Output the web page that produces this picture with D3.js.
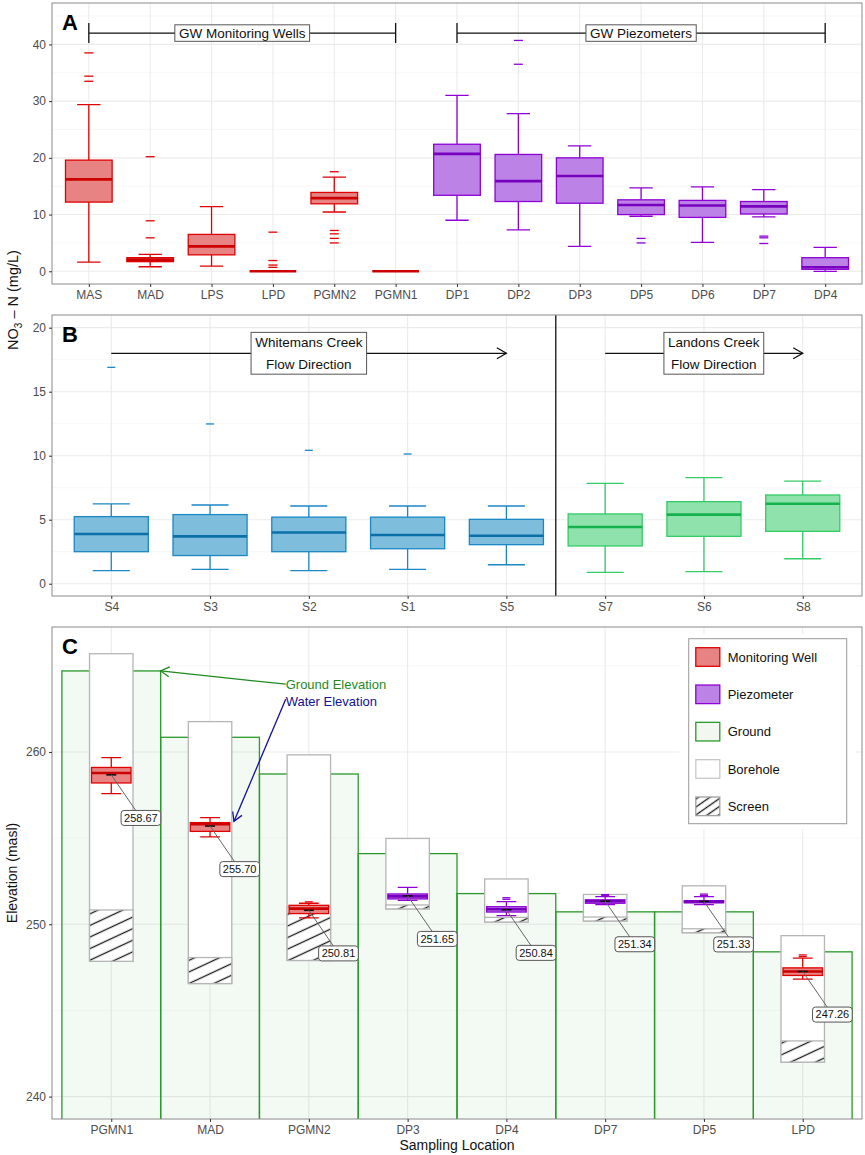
<!DOCTYPE html>
<html>
<head>
<meta charset="utf-8">
<script src="https://cdn.jsdelivr.net/npm/d3@7"></script>
<style>
  html, body { margin: 0; padding: 0; background: #fff; }
  svg { display: block; font-family: "Liberation Sans", Arial, sans-serif; }
</style>
</head>
<body>
<svg id="chart" width="865" height="1155"></svg>
<script>
/* Nitrate box plots (A: groundwater, B: creeks) and water-level profile (C). */

// ---- Panel A: groundwater NO3-N ----
const sitesA = ["MAS", "MAD", "LPS", "LPD", "PGMN2", "PGMN1", "DP1", "DP2", "DP3", "DP5", "DP6", "DP7", "DP4"];
const kindA = ["well", "well", "well", "well", "well", "well", "piezo", "piezo", "piezo", "piezo", "piezo", "piezo", "piezo"];
// [lower whisker, q1, median, q3, upper whisker]
const boxA = [
  [1.6, 12.2, 16.2, 19.6, 29.4],
  [0.8, 1.7, 2.05, 2.4, 3.0],
  [0.9, 2.9, 4.4, 6.5, 11.4],
  [0, 0, 0, 0, 0],
  [10.45, 11.9, 12.9, 13.9, 16.6],
  [0, 0, 0, 0, 0],
  [9.0, 13.4, 20.7, 22.4, 31.0],
  [7.3, 12.3, 15.9, 20.6, 27.8],
  [4.4, 12.0, 16.8, 20.0, 22.1],
  [9.7, 10.0, 11.7, 12.6, 14.7],
  [5.1, 9.5, 11.6, 12.5, 14.9],
  [9.6, 10.1, 11.45, 12.3, 14.4],
  [0, 0.35, 0.7, 2.4, 4.2]
];
const outA = [
  [38.5, 34.4, 33.5],
  [20.2, 8.9, 5.9],
  [],
  [6.9, 1.9, 1.1, 0.7],
  [17.55, 7.2, 6.6, 5.8, 5.0],
  [],
  [],
  [40.7, 36.5],
  [],
  [5.8, 5.0],
  [],
  [6.2, 5.9, 4.9],
  []
];
const ticksA = [0, 10, 20, 30, 40];
const groupLabelsA = ["GW Monitoring Wells", "GW Piezometers"];

// ---- Panel B: creek NO3-N ----
const sitesB = ["S4", "S3", "S2", "S1", "S5", "S7", "S6", "S8"];
const kindB = ["wc", "wc", "wc", "wc", "wc", "lc", "lc", "lc"];
const boxB = [
  [1.02, 2.5, 3.88, 5.24, 6.23],
  [1.12, 2.2, 3.7, 5.4, 6.15],
  [1.02, 2.5, 4.0, 5.2, 6.07],
  [1.12, 2.73, 3.8, 5.2, 6.07],
  [1.48, 3.05, 3.75, 5.03, 6.07],
  [0.89, 2.95, 4.43, 5.45, 7.84],
  [0.94, 3.7, 5.4, 6.41, 8.28],
  [1.95, 4.09, 6.25, 6.93, 8.02]
];
const outB = [[16.9], [12.48], [10.42], [10.13], [], [], [], []];
const ticksB = [0, 5, 10, 15, 20];
const creekLabelsB = [["Whitemans Creek", "Flow Direction"], ["Landons Creek", "Flow Direction"]];

// ---- Panel C: elevations (masl) ----
const sitesC = ["PGMN1", "MAD", "PGMN2", "DP3", "DP4", "DP7", "DP5", "LPD"];
const kindC = ["well", "well", "well", "piezo", "piezo", "piezo", "piezo", "well"];
const groundC = [264.7, 260.85, 258.72, 254.1, 251.78, 250.72, 250.72, 248.4];
const boreTopC = [265.7, 261.76, 259.83, 254.98, 252.63, 251.73, 252.23, 249.34];
const boreBottomC = [247.85, 246.56, 247.9, 250.89, 250.13, 250.19, 249.51, 242.0];
const screenTopC = [250.83, 248.07, 251.0, 251.12, 250.4, 250.42, 249.74, 243.23];
const waterBoxC = [
  [257.58, 258.2, 258.78, 259.1, 259.67],
  [255.07, 255.39, 255.8, 255.9, 256.19],
  [250.37, 250.62, 250.91, 251.1, 251.22],
  [251.39, 251.47, 251.62, 251.76, 252.14],
  [250.5, 250.71, 250.87, 251.02, 251.31],
  [251.14, 251.22, 251.34, 251.42, 251.6],
  [251.14, 251.25, 251.3, 251.37, 251.6],
  [246.82, 247.03, 247.26, 247.47, 248.03]
];
const waterOutC = [[], [], [251.3], [], [251.45, 251.54], [251.68, 251.72], [251.67, 251.75], [248.12, 248.22]];
const waterMeanC = [258.67, 255.70, 250.81, 251.65, 250.84, 251.34, 251.33, 247.26];
const ticksC = [240, 250, 260];
const legendC = ["Monitoring Well", "Piezometer", "Ground", "Borehole", "Screen"];

(function () {
  "use strict";

  const L = 52, R = 862;
  const svg = d3.select("#chart");
  const defs = svg.append("defs");

  const pal = {
    well:  { stroke: "#e00000", fill: "#e88383", med: "#cc0000" },
    piezo: { stroke: "#8f00d6", fill: "#bc82e6", med: "#7800bf" },
    wc:    { stroke: "#1b87c5", fill: "#7fbddc", med: "#0b70aa" },
    lc:    { stroke: "#33cc66", fill: "#8fe2ab", med: "#14b24c" },
  };
  const green = "#2a9a2a";

  // hatch for well screens
  function hatch(id, gap, angle) {
    const p = defs.append("pattern").attr("id", id)
      .attr("patternUnits", "userSpaceOnUse")
      .attr("width", gap).attr("height", gap)
      .attr("patternTransform", `rotate(${angle})`);
    p.append("rect").attr("width", gap).attr("height", gap).attr("fill", "#fff");
    p.append("line").attr("x1", 0).attr("x2", gap)
      .attr("y1", gap / 2).attr("y2", gap / 2)
      .attr("stroke", "#1a1a1a").attr("stroke-width", 1.3);
  }
  hatch("hatch", 10.5, -25);
  hatch("hatchKey", 6.5, -35);

  function makePanel(id, top, bottom, cats, yDomain, ticks) {
    const x = d3.scalePoint().domain(cats).range([L, R]).padding(0.6);
    const y = d3.scaleLinear().domain(yDomain).range([bottom, top]);
    const g = svg.append("g").attr("class", "panel-" + id);
    defs.append("clipPath").attr("id", "clip-" + id)
      .append("rect").attr("x", L).attr("y", top)
      .attr("width", R - L).attr("height", bottom - top);

    const grid = g.append("g");
    const st = ticks[1] - ticks[0];
    const minor = d3.range(ticks[0] - st / 2, yDomain[1], st)
      .filter((v) => v > yDomain[0] && v < yDomain[1]);
    grid.selectAll("line.minor").data(minor).join("line")
      .attr("x1", L).attr("x2", R)
      .attr("y1", (d) => y(d)).attr("y2", (d) => y(d))
      .attr("stroke", "#f2f2f2").attr("stroke-width", 0.6);
    grid.selectAll("line.majorY").data(ticks).join("line")
      .attr("x1", L).attr("x2", R)
      .attr("y1", (d) => y(d)).attr("y2", (d) => y(d))
      .attr("stroke", "#ebebeb").attr("stroke-width", 1.1);
    grid.selectAll("line.majorX").data(cats).join("line")
      .attr("x1", (d) => x(d)).attr("x2", (d) => x(d))
      .attr("y1", top).attr("y2", bottom)
      .attr("stroke", "#ebebeb").attr("stroke-width", 1.1);

    const marks = g.append("g").attr("clip-path", `url(#clip-${id})`);
    const xi = (i) => x(cats[0]) + i * x.step();
    return { id, x, y, g, marks, top, bottom, ticks, xi };
  }

  function finishPanel(p, letter) {
    p.g.append("rect").attr("x", L).attr("y", p.top)
      .attr("width", R - L).attr("height", p.bottom - p.top)
      .attr("fill", "none").attr("stroke", "#8a8a8a").attr("stroke-width", 1);

    const ax = p.g.append("g").attr("transform", `translate(${L},0)`)
      .call(d3.axisLeft(p.y).tickValues(p.ticks).tickSize(3).tickPadding(3));
    const bx = p.g.append("g").attr("transform", `translate(0,${p.bottom})`)
      .call(d3.axisBottom(p.x).tickSize(3).tickPadding(3));
    [ax, bx].forEach((a) => {
      a.attr("font-family", null).attr("font-size", null);
      a.select(".domain").remove();
      a.selectAll(".tick line").attr("stroke", "#333");
      a.selectAll(".tick text").attr("fill", "#4d4d4d").style("font-size", "12px");
    });

    p.g.append("text").attr("x", 62).attr("y", p.top + 27)
      .style("font-size", "22px").style("font-weight", "bold").text(letter);
  }

  function drawBoxes(p, cats, stats, outs, kinds, o) {
    const step = p.x.step();
    const bw = step * o.box, cw = step * o.cap;
    const rows = cats.map((c, i) => ({ c, s: stats[i], out: outs[i], k: pal[kinds[i]] }));
    const gg = p.marks.append("g").selectAll("g").data(rows).join("g")
      .attr("transform", (d) => `translate(${p.x(d.c)},0)`);

    // whiskers + caps
    gg.append("path")
      .attr("d", (d) => {
        const [lo, q1, , q3, hi] = d.s.map(p.y);
        return `M0,${q3}V${hi}M${-cw / 2},${hi}H${cw / 2}` +
               `M0,${q1}V${lo}M${-cw / 2},${lo}H${cw / 2}`;
      })
      .attr("fill", "none").attr("stroke", (d) => d.k.stroke).attr("stroke-width", o.lw);
    // box
    gg.append("rect")
      .attr("x", -bw / 2).attr("width", bw)
      .attr("y", (d) => p.y(d.s[3]))
      .attr("height", (d) => Math.max(0, p.y(d.s[1]) - p.y(d.s[3])))
      .attr("fill", (d) => d.k.fill).attr("stroke", (d) => d.k.stroke)
      .attr("stroke-width", o.lw);
    // median
    gg.append("line")
      .attr("x1", -bw / 2).attr("x2", bw / 2)
      .attr("y1", (d) => p.y(d.s[2])).attr("y2", (d) => p.y(d.s[2]))
      .attr("stroke", (d) => d.k.med).attr("stroke-width", o.lw * 2);
    // outliers, drawn as short dashes
    gg.selectAll("line.out").data((d) => d.out.map((v) => ({ v, k: d.k }))).join("line")
      .attr("class", "out")
      .attr("x1", -o.dash / 2).attr("x2", o.dash / 2)
      .attr("y1", (d) => p.y(d.v)).attr("y2", (d) => p.y(d.v))
      .attr("stroke", (d) => d.k.stroke).attr("stroke-width", 1.3);
    return gg;
  }

  function arrowHead(g, x1, y1, x2, y2, color, len) {
    const a = Math.atan2(y2 - y1, x2 - x1), s = Math.PI / 6;
    g.append("path")
      .attr("d", `M${x2 - len * Math.cos(a - s)},${y2 - len * Math.sin(a - s)}` +
                 `L${x2},${y2}L${x2 - len * Math.cos(a + s)},${y2 - len * Math.sin(a + s)}`)
      .attr("fill", "none").attr("stroke", color).attr("stroke-width", 1.3);
  }

  function boxedText(g, cx, cy, lines, o) {
    const lg = g.append("g");
    const rect = lg.append("rect");
    const t = lg.append("text").attr("text-anchor", "middle")
      .style("font-size", o.size + "px").attr("fill", "#111");
    lines.forEach((s, k) => {
      t.append("tspan").attr("x", cx)
        .attr("y", cy + (k - (lines.length - 1) / 2) * o.lh)
        .attr("dy", "0.35em").text(s);
    });
    const b = t.node().getBBox();
    const w = b.width + o.px * 2;
    const h = (lines.length - 1) * o.lh + o.size + o.py * 2;
    rect.attr("x", cx - w / 2).attr("y", cy - h / 2)
      .attr("width", w).attr("height", h)
      .attr("rx", o.r).attr("fill", "#fff")
      .attr("stroke", o.stroke).attr("stroke-width", 1);
  }

  // ---------- Panel A ----------
  const pA = makePanel("A", 3, 284, sitesA, [-2.24, 47.3], ticksA);
  drawBoxes(pA, sitesA, boxA, outA, kindA, { box: 0.76, cap: 0.38, lw: 1.3, dash: 9 });
  const annA = pA.g.append("g");
  [[0, 5], [6, 12]].forEach(([i0, i1], k) => {
    const yv = pA.y(42), x0 = pA.xi(i0), x1 = pA.xi(i1);
    annA.append("path")
      .attr("d", `M${x0},${yv}H${x1}M${x0},${yv - 10}V${yv + 10}M${x1},${yv - 10}V${yv + 10}`)
      .attr("stroke", "#111").attr("stroke-width", 1.3).attr("fill", "none");
    boxedText(annA, (x0 + x1) / 2, yv, [groupLabelsA[k]],
      { size: 13.5, lh: 0, px: 4, py: 1.5, r: 0, stroke: "#555" });
  });
  finishPanel(pA, "A");

  // ---------- Panel B ----------
  const pB = makePanel("B", 315, 596, sitesB, [-0.96, 20.99], ticksB);
  drawBoxes(pB, sitesB, boxB, outB, kindB, { box: 0.75, cap: 0.375, lw: 1.3, dash: 8 });
  const annB = pB.g.append("g");
  annB.append("line")
    .attr("x1", pB.xi(4.5)).attr("x2", pB.xi(4.5))
    .attr("y1", pB.top).attr("y2", pB.bottom)
    .attr("stroke", "#111").attr("stroke-width", 1.3);
  [[0, 4, 2.0], [5, 7, 6.1]].forEach(([i0, i1, lx], k) => {
    const yv = pB.y(18), x0 = pB.xi(i0), x1 = pB.xi(i1);
    annB.append("line").attr("x1", x0).attr("x2", x1).attr("y1", yv).attr("y2", yv)
      .attr("stroke", "#111").attr("stroke-width", 1.3);
    arrowHead(annB, x0, yv, x1, yv, "#111", 11);
    boxedText(annB, pB.xi(lx), yv, creekLabelsB[k],
      { size: 13.5, lh: 22.3, px: 4, py: 3, r: 0, stroke: "#555" });
  });
  finishPanel(pB, "B");

  // y title shared by A and B
  const yt = svg.append("text")
    .attr("transform", "translate(18,300) rotate(-90)")
    .attr("text-anchor", "middle").style("font-size", "14.5px").attr("fill", "#111");
  yt.append("tspan").text("NO");
  yt.append("tspan").attr("dy", 4).style("font-size", "10px").text("3");
  yt.append("tspan").attr("dy", -4).text(" \u2013 N (mg/L)");

  // ---------- Panel C ----------
  const pC = makePanel("C", 627, 1119, sitesC, [238.7, 267.25], ticksC);
  const stepC = pC.x.step();
  const rowsC = sitesC.map((c, i) => ({ c, i }));

  pC.marks.append("g").selectAll("rect").data(rowsC).join("rect")
    .attr("x", (d) => pC.xi(d.i - 0.5)).attr("width", stepC)
    .attr("y", (d) => pC.y(groundC[d.i]))
    .attr("height", (d) => pC.bottom + 6 - pC.y(groundC[d.i]))
    .attr("fill", "#228B22").attr("fill-opacity", 0.055)
    .attr("stroke", green).attr("stroke-width", 1.3);

  const boreW = stepC * 0.44;
  pC.marks.append("g").selectAll("rect").data(rowsC).join("rect")
    .attr("x", (d) => pC.x(d.c) - boreW / 2).attr("width", boreW)
    .attr("y", (d) => pC.y(boreTopC[d.i]))
    .attr("height", (d) => pC.y(boreBottomC[d.i]) - pC.y(boreTopC[d.i]))
    .attr("fill", "#fff").attr("stroke", "#b5b5b5").attr("stroke-width", 1.3);
  pC.marks.append("g").selectAll("rect").data(rowsC).join("rect")
    .attr("x", (d) => pC.x(d.c) - boreW / 2).attr("width", boreW)
    .attr("y", (d) => pC.y(screenTopC[d.i]))
    .attr("height", (d) => pC.y(boreBottomC[d.i]) - pC.y(screenTopC[d.i]))
    .attr("fill", "url(#hatch)").attr("stroke", "#b5b5b5").attr("stroke-width", 1.3);

  drawBoxes(pC, sitesC, waterBoxC, waterOutC, kindC, { box: 0.4, cap: 0.2, lw: 1.3, dash: 8 });

  // mean markers and repelled labels
  const nudgeX = 0.3, nudgeY = -2.5;
  const labC = pC.marks.append("g");
  rowsC.forEach((d) => {
    const px = pC.x(d.c), py = pC.y(waterMeanC[d.i]);
    const lx = pC.xi(d.i + nudgeX), ly = pC.y(waterMeanC[d.i] + nudgeY);
    labC.append("line").attr("x1", px - 5).attr("x2", px + 5).attr("y1", py).attr("y2", py)
      .attr("stroke", "#111").attr("stroke-width", 1.6);
    labC.append("line").attr("x1", px).attr("y1", py).attr("x2", lx).attr("y2", ly)
      .attr("stroke", "#666").attr("stroke-width", 1);
    boxedText(labC, lx, ly, [waterMeanC[d.i].toFixed(2)],
      { size: 11, lh: 0, px: 3, py: 2, r: 3, stroke: "#555" });
  });

  // ground / water callouts
  const ann = pC.g.append("g");
  const tx = pC.xi(1.766);
  const gy = pC.y(263.93), wy = pC.y(262.94);
  const gEnd = [pC.xi(0.5), pC.y(groundC[0])];
  const wEnd = [pC.xi(1.242), pC.y(255.97)];
  ann.append("line").attr("x1", tx).attr("y1", gy).attr("x2", gEnd[0]).attr("y2", gEnd[1])
    .attr("stroke", "#1e8a1e").attr("stroke-width", 1.3);
  arrowHead(ann, tx, gy, gEnd[0], gEnd[1], "#1e8a1e", 10);
  ann.append("line").attr("x1", tx).attr("y1", wy - 2).attr("x2", wEnd[0]).attr("y2", wEnd[1])
    .attr("stroke", "#10109a").attr("stroke-width", 1.3);
  arrowHead(ann, tx, wy - 2, wEnd[0], wEnd[1], "#10109a", 10);
  ann.append("text").attr("x", tx).attr("y", gy).attr("dy", "0.35em")
    .style("font-size", "13px").attr("fill", "#1e8a1e").text("Ground Elevation");
  ann.append("text").attr("x", tx).attr("y", wy).attr("dy", "0.35em")
    .style("font-size", "13px").attr("fill", "#10109a").text("Water Elevation");

  // legend
  const lg = pC.g.append("g");
  lg.append("rect").attr("x", 679).attr("y", 634).attr("width", 176).attr("height", 195).attr("fill", "#fff");
  lg.append("rect").attr("x", 688.7).attr("y", 638.7).attr("width", 158).attr("height", 185)
    .attr("fill", "#fff").attr("stroke", "#999").attr("stroke-width", 1);
  const keyStyle = [
    { fill: pal.well.fill, stroke: pal.well.stroke },
    { fill: pal.piezo.fill, stroke: pal.piezo.stroke },
    { fill: "#f2f8ef", stroke: green },
    { fill: "#fff", stroke: "#c8c8c8" },
    { fill: "url(#hatchKey)", stroke: "#a0a0a0" },
  ];
  const items = lg.selectAll("g").data(legendC).join("g")
    .attr("transform", (d, k) => `translate(0,${657 + k * 37.33})`);
  items.append("rect").attr("x", 695.8).attr("y", -9.3).attr("width", 24).attr("height", 18.6)
    .attr("fill", (d, k) => keyStyle[k].fill).attr("stroke", (d, k) => keyStyle[k].stroke)
    .attr("stroke-width", 1.3);
  items.append("text").attr("x", 727.7).attr("dy", "0.35em")
    .style("font-size", "13px").attr("fill", "#111").text((d) => d);

  finishPanel(pC, "C");

  svg.append("text").attr("transform", "translate(17,873) rotate(-90)")
    .attr("text-anchor", "middle").style("font-size", "14px").attr("fill", "#111")
    .text("Elevation (masl)");
  svg.append("text").attr("x", (L + R) / 2).attr("y", 1150)
    .attr("text-anchor", "middle").style("font-size", "14px").attr("fill", "#111")
    .text("Sampling Location");
})();
</script>
</body>
</html>
